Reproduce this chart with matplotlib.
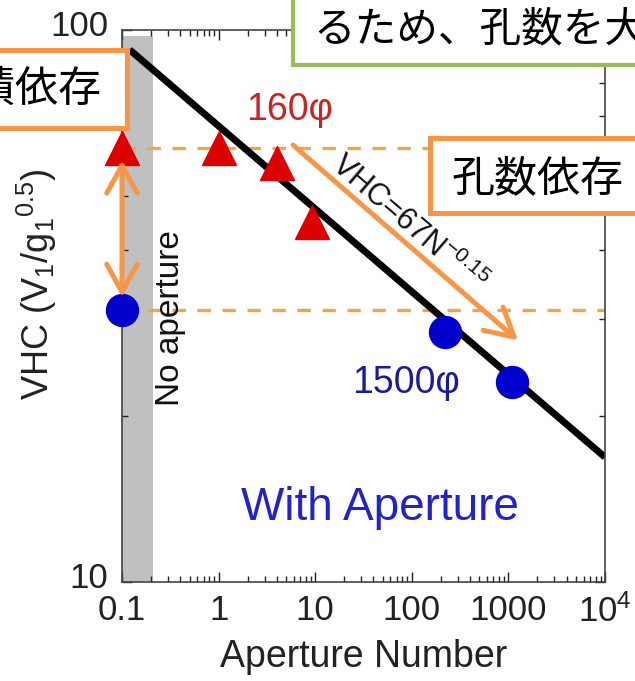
import matplotlib
matplotlib.use('Agg')
import matplotlib.pyplot as plt
import numpy as np
from matplotlib.patches import Rectangle
from matplotlib.ticker import LogLocator, NullFormatter
from matplotlib.transforms import ScaledTranslation

plt.rcParams['font.family'] = ['Liberation Sans', 'Noto Sans CJK JP', 'DejaVu Sans']
plt.rcParams['mathtext.fontset'] = 'custom'
plt.rcParams['mathtext.rm'] = 'Liberation Sans'
plt.rcParams['mathtext.it'] = 'Liberation Sans:italic'
plt.rcParams['mathtext.bf'] = 'Liberation Sans:bold'

# Measured VHC versus aperture number
small_n = [0.1, 1, 4.0, 9.3]          # 160 phi apertures
small_vhc = [61.1, 61.1, 57.4, 44.9]
large_n = [0.1, 221, 1090]            # 1500 phi apertures
large_vhc = [31.1, 28.4, 23.0]
fit_coef = 67
fit_exp = -0.15
fit_range = [0.12, 1e4]
no_aperture_span = [0.1, 0.21]

x_ticks = [0.1, 1, 10, 100, 1000, 10000]
x_tick_labels = ['0.1', '1', '10', '100', '1000', r'10$^{4}$']
y_ticks = [10, 100]
y_tick_labels = ['10', '100']

ORANGE = '#F79646'
DASH = '#EEA64A'
GREEN = '#9BBB59'
RED = '#DD0000'
BLUE = '#0000CC'

W, H = 635, 681
fig = plt.figure(figsize=(W / 100, H / 100), dpi=100)
ax = fig.add_axes([122 / W, 1 - 582 / H, 483 / W, 552 / H])
ax.set_xscale('log')
ax.set_yscale('log')
ax.set_xlim(0.1, 1e4)
ax.set_ylim(10, 100)

# shaded "no aperture" column
ax.axvspan(*no_aperture_span, ymax=0.99, color='#C0C0C0', lw=0, zorder=0)

# reference levels of the no-aperture measurements
ax.plot([small_n[0], 1e4], [small_vhc[0]] * 2, color=DASH, lw=2.4,
        dashes=(4, 3.5), zorder=1)
ax.plot([large_n[0], 1e4], [large_vhc[0]] * 2, color=DASH, lw=2.4,
        dashes=(4, 3.5), zorder=1)

# power-law fit
n_fit = np.logspace(np.log10(fit_range[0]), np.log10(fit_range[1]), 50)
ax.plot(n_fit, fit_coef * n_fit ** fit_exp, color='black', lw=5, zorder=2,
        solid_capstyle='butt')

ax.plot(small_n, small_vhc, ls='none', marker='^', ms=24, color=RED,
        mec=RED, zorder=3, clip_on=False)
ax.plot(large_n, large_vhc, ls='none', marker='o', ms=23, color=BLUE,
        mec=BLUE, zorder=3, clip_on=False)

# axes styling
ax.set_xticks(x_ticks)
ax.set_xticklabels(x_tick_labels)
ax.set_yticks(y_ticks)
ax.set_yticklabels(y_tick_labels)
ax.xaxis.set_minor_locator(LogLocator(base=10, subs=np.arange(2, 10), numticks=100))
ax.yaxis.set_minor_locator(LogLocator(base=10, subs=np.arange(2, 10), numticks=100))
ax.xaxis.set_minor_formatter(NullFormatter())
ax.yaxis.set_minor_formatter(NullFormatter())
ax.tick_params(which='both', direction='in', top=True, right=True,
               labelsize=25, colors='#222222')
ax.tick_params(which='major', length=7, width=1, pad=9)
ax.tick_params(which='minor', length=4, width=1)
ax.tick_params(axis='y', which='major', pad=10)
for s in ax.spines.values():
    s.set_color('#444444')
    s.set_linewidth(1.2)
for lab in ax.get_yticklabels():
    lab.set_transform(lab.get_transform() +
                      ScaledTranslation(0, 5 / 72, fig.dpi_scale_trans))

ax.set_xlabel('Aperture Number', fontsize=27, color='#222222', labelpad=7)
ax.set_ylabel(r'$\mathrm{VHC\ (V_1/g_1{}^{0.5})}$', fontsize=26,
              color='#222222')
ax.yaxis.set_label_coords(-0.13, 0.54)

# in-plot labels
ax.text(0.314, 30.1, 'No aperture', rotation=90, fontsize=24,
        ha='center', va='center', color='#111111', zorder=4)
ax.text(5.48, 71.6, '160φ', fontsize=27, color='#CC2222',
        ha='center', va='center', zorder=4)
ax.text(88, 22.9, '1500φ', fontsize=27, color='#1A1AA0',
        ha='center', va='center', zorder=4)
ax.text(46.9, 13.6, 'With Aperture', fontsize=33, color='#2222CC',
        ha='center', va='center', zorder=4)

# fit equation written along the line
fig.canvas.draw()
p0 = ax.transData.transform((1, fit_coef))
p1 = ax.transData.transform((1e4, fit_coef * 1e4 ** fit_exp))
angle = np.degrees(np.arctan2(p1[1] - p0[1], p1[0] - p0[0]))
ax.text(92, 44.5, f'VHC={fit_coef}N$^{{{fit_exp}}}$', rotation=angle,
        rotation_mode='anchor', fontsize=22, ha='center', va='center',
        color='#111111', zorder=4)

# arrows
arrow_kw = dict(color=ORANGE, lw=3.6, shrinkA=0, shrinkB=0, mutation_scale=20)
ax.annotate('', xy=(0.1, 32.8), xytext=(0.1, 58.1),
            arrowprops=dict(arrowstyle='<->,head_length=1.0,head_width=0.55',
                            **arrow_kw), zorder=5)
ax.annotate('', xy=(1256, 27.4), xytext=(5.89, 61.9),
            arrowprops=dict(arrowstyle='->,head_length=1.0,head_width=0.55',
                            **arrow_kw), zorder=5)


def fx(x):
    return x / W


def fy(y):
    return 1 - y / H


def callout(x0, y0, x1, y1, edge, lw):
    fig.add_artist(Rectangle((fx(x0), fy(y1)), fx(x1) - fx(x0),
                             fy(y0) - fy(y1), transform=fig.transFigure,
                             facecolor='white', edgecolor=edge, lw=lw,
                             zorder=6))


callout(-20, 50, 127, 128, ORANGE, 3.6)
fig.text(fx(101), fy(90), '面積依存', fontsize=31, ha='right', va='center',
         family=['Noto Sans CJK JP'], color='black', zorder=7)

callout(293, -20, 660, 65, GREEN, 3.0)
fig.text(fx(313), fy(30), 'るため、孔数を大きく', fontsize=30, ha='left',
         va='center', family=['Noto Sans CJK JP'], color='black', zorder=7)

callout(430, 138, 660, 213, ORANGE, 3.6)
fig.text(fx(452), fy(179), '孔数依存', fontsize=31, ha='left', va='center',
         family=['Noto Sans CJK JP'], color='black', zorder=7)

fig.savefig('out.png', dpi=100)
